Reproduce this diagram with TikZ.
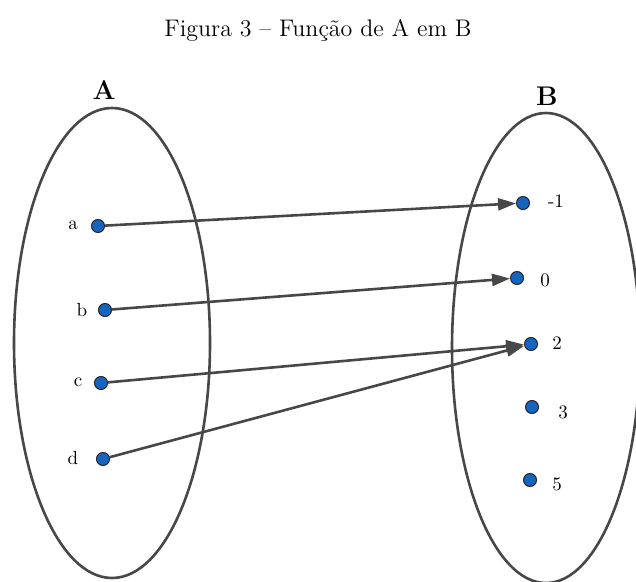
\documentclass[tikz,border=0pt]{standalone}
\usetikzlibrary{arrows.meta}
\definecolor{dotblue}{HTML}{1565C0}
\definecolor{linegray}{HTML}{474747}
\tikzset{
  setline/.style={draw=linegray, line width=1.3pt},
  arr/.style={draw=linegray, line width=1.3pt, -{Triangle[length=9pt,width=6pt]}},
  pt/.style={circle, draw=black!85, fill=dotblue, line width=0.5pt, inner sep=0pt, minimum size=6.5pt},
  lbl/.style={font=\fontsize{9.5}{10}\selectfont, inner sep=0pt},
  setlbl/.style={font=\fontsize{13.5}{14}\selectfont\bfseries, inner sep=0pt},
  title/.style={font=\fontsize{12}{14}\selectfont, inner sep=0pt}
}
\begin{document}
\begin{tikzpicture}[x=0.5pt,y=-0.5pt]
\useasboundingbox (0,0) rectangle (636,582);
\node[title] (t) at (318,30) {Figura 3 -- Função de A em B};
\node[setlbl] (A) at (104,90) {A};
\node[setlbl] (B) at (547,96) {B};
\draw[setline] (112,343) ellipse [x radius=98, y radius=235];
\draw[setline] (546,348) ellipse [x radius=94, y radius=235];
% domain points
\node[pt] (a) at (98,226) {};
\node[pt] (b) at (105,310) {};
\node[pt] (c) at (101,383) {};
\node[pt] (d) at (103,459) {};
\node[lbl] (la) at (73,225) {a};
\node[lbl] (lb) at (82,310) {b};
\node[lbl] (lc) at (78,382) {c};
\node[lbl] (ld) at (73,458) {d};
% codomain points
\node[pt] (m1) at (523,203) {};
\node[pt] (z) at (517,278) {};
\node[pt] (two) at (531,344) {};
\node[pt] (three) at (532,407) {};
\node[pt] (five) at (530,480) {};
\node[lbl] (lm1) at (556,201) {-1};
\node[lbl] (lz) at (545,280) {0};
\node[lbl] (ltwo) at (557,343) {2};
\node[lbl] (lthree) at (563,412) {3};
\node[lbl] (lfive) at (557,484) {5};
% arrows
\draw[arr] (a) -- (m1);
\draw[arr] (b) -- (z);
\draw[arr] (c) -- (two);
\draw[arr] (d) -- (two);
\end{tikzpicture}
\end{document}
